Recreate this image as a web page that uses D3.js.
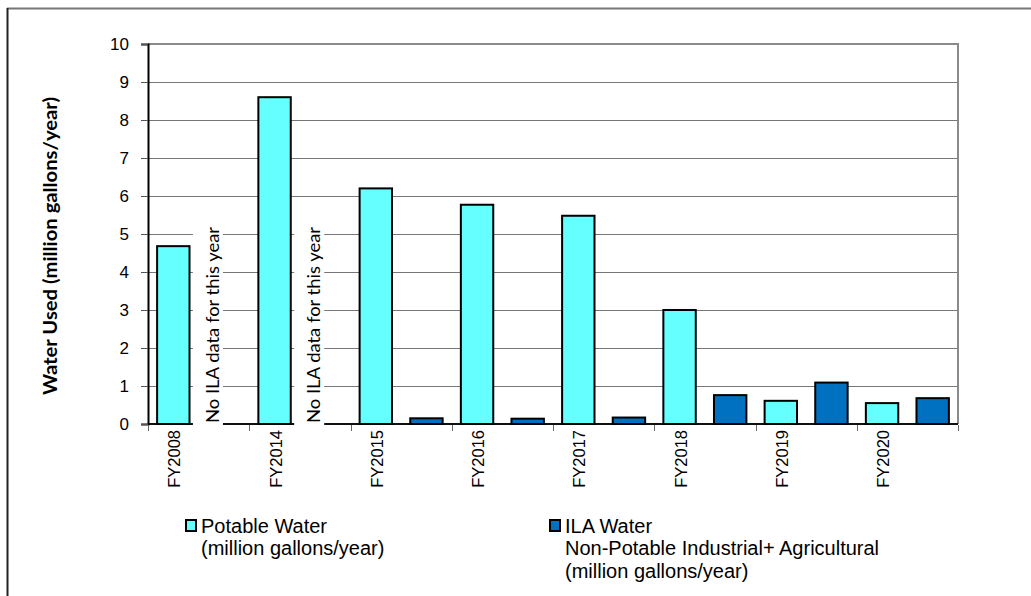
<!DOCTYPE html>
<html>
<head>
<meta charset="utf-8">
<script src="https://cdn.jsdelivr.net/npm/d3@7"></script>
<style>
  html, body { margin: 0; padding: 0; background: #fff; }
  svg { display: block; }
</style>
</head>
<body>
<svg id="chart" width="1031" height="596"></svg>
<script>
// Fiscal years shown on the category axis
const fiscalYears = ["FY2008", "FY2014", "FY2015", "FY2016", "FY2017", "FY2018", "FY2019", "FY2020"];
// Potable water, million gallons per year
const potableWater = [4.68, 8.6, 6.2, 5.77, 5.48, 3.0, 0.61, 0.55];
// ILA (non-potable industrial + agricultural) water, million gallons per year; null = not reported
const ilaWater = [null, null, 0.15, 0.14, 0.17, 0.76, 1.09, 0.68];
// Value-axis ticks
const yTickValues = [0, 1, 2, 3, 4, 5, 6, 7, 8, 9, 10];
const noDataNote = "No ILA data for this year";
const yAxisTitle = "Water  Used (million gallons/year)";
const legendItems = [
  { key: "potable", lines: ["Potable Water", "(million gallons/year)"] },
  { key: "ila", lines: ["ILA Water", "Non-Potable Industrial+ Agricultural", "(million gallons/year)"] }
];

const colors = { potable: "#66FFFF", ila: "#0070C0" };

const svg = d3.select("#chart");
const plot = { left: 148, right: 958, top: 44, bottom: 424 };

// Outer chart frame
svg.append("line").attr("x1", 7).attr("y1", 8.5).attr("x2", 1031).attr("y2", 8.5)
  .attr("stroke", "#777").attr("stroke-width", 2);
svg.append("line").attr("x1", 7.5).attr("y1", 8).attr("x2", 7.5).attr("y2", 596)
  .attr("stroke", "#222").attr("stroke-width", 2);

// Scales
const y = d3.scaleLinear().domain([0, 10]).range([plot.bottom, plot.top]);
const xGroup = d3.scaleBand().domain(fiscalYears).range([plot.left, plot.right]).padding(0);
const slots = fiscalYears.flatMap(fy => [fy + "|potable", fy + "|ila"]);
const xSlot = d3.scaleBand().domain(slots).range([plot.left, plot.right])
  .paddingInner(0.36).paddingOuter(0.18);

// Horizontal gridlines
svg.append("g").selectAll("line").data(yTickValues.filter(v => v > 0)).join("line")
  .attr("x1", plot.left).attr("x2", plot.right)
  .attr("y1", d => Math.round(y(d)) + 0.5).attr("y2", d => Math.round(y(d)) + 0.5)
  .attr("stroke", "#777").attr("stroke-width", 1);

// Plot-area frame (top and right edges)
svg.append("path")
  .attr("d", `M${plot.left},${plot.top} H${plot.right} V${plot.bottom}`)
  .attr("fill", "none").attr("stroke", "#8a8a8a").attr("stroke-width", 2);

// Category axis baseline
svg.append("line").attr("x1", plot.left).attr("x2", plot.right)
  .attr("y1", plot.bottom).attr("y2", plot.bottom)
  .attr("stroke", "#111").attr("stroke-width", 2);

// "No data" notes in the empty ILA slots, on a white backing that breaks the grid
const missing = fiscalYears.filter((fy, i) => ilaWater[i] == null);
const noteGroups = svg.append("g").selectAll("g").data(missing).join("g")
  .attr("transform", fy => `translate(${xSlot(fy + "|ila") + xSlot.bandwidth() / 2 - 5},${plot.bottom - 1})`);
noteGroups.append("rect")
  .attr("x", -26).attr("y", -199).attr("width", 30).attr("height", 203)
  .attr("fill", "#fff");
noteGroups.append("text")
  .attr("transform", "rotate(-90)")
  .attr("font-family", "Lato, 'Open Sans', sans-serif")
  .attr("font-size", 16.5).attr("fill", "#000")
  .attr("textLength", 196).attr("lengthAdjust", "spacingAndGlyphs")
  .text(noDataNote);

// Bars
const barRows = fiscalYears.flatMap((fy, i) => [
  { slot: fy + "|potable", series: "potable", value: potableWater[i] },
  { slot: fy + "|ila", series: "ila", value: ilaWater[i] }
]).filter(d => d.value != null);

svg.append("g").selectAll("rect").data(barRows).join("rect")
  .attr("x", d => xSlot(d.slot))
  .attr("width", xSlot.bandwidth())
  .attr("y", d => y(d.value))
  .attr("height", d => y(0) - y(d.value))
  .attr("fill", d => colors[d.series])
  .attr("stroke", "#000").attr("stroke-width", 2);

// Value axis
const yAxis = svg.append("g").attr("transform", `translate(${plot.left},0)`)
  .call(d3.axisLeft(y).tickValues(yTickValues).tickSize(7).tickPadding(12).tickFormat(d3.format("d")));
yAxis.select(".domain").attr("stroke", "#000").attr("stroke-width", 2);
yAxis.selectAll(".tick line").attr("stroke", "#555");
yAxis.selectAll(".tick text")
  .attr("font-family", "'Liberation Sans', Arial, sans-serif")
  .attr("font-size", 17).attr("fill", "#000");

// Category ticks at group boundaries, labels under the potable bars
const boundaries = fiscalYears.map(fy => xGroup(fy)).concat([plot.right]);
svg.append("g").selectAll("line").data(boundaries).join("line")
  .attr("x1", d => Math.round(d) + 0.5).attr("x2", d => Math.round(d) + 0.5)
  .attr("y1", plot.bottom + 1).attr("y2", plot.bottom + 7)
  .attr("stroke", "#666").attr("stroke-width", 1);

svg.append("g").selectAll("text").data(fiscalYears).join("text")
  .attr("transform", fy => `translate(${xSlot(fy + "|potable") + xSlot.bandwidth() / 2 + 7},${plot.bottom + 6}) rotate(-90)`)
  .attr("text-anchor", "end")
  .attr("font-family", "'Liberation Sans', Arial, sans-serif")
  .attr("font-size", 16.5).attr("fill", "#000")
  .text(fy => fy);

// Value-axis title
svg.append("text")
  .attr("transform", "translate(57,246) rotate(-90)")
  .attr("text-anchor", "middle")
  .attr("font-family", "Lato, 'Open Sans', sans-serif")
  .attr("font-weight", "bold")
  .attr("font-size", 18).attr("fill", "#000")
  .attr("textLength", 298).attr("lengthAdjust", "spacingAndGlyphs")
  .text(yAxisTitle);

// Legend
const legendX = { potable: 186, ila: 550 };
const legend = svg.append("g").selectAll("g").data(legendItems).join("g")
  .attr("transform", d => `translate(${legendX[d.key]},520)`);
legend.append("rect")
  .attr("width", 10).attr("height", 11)
  .attr("fill", d => colors[d.key]).attr("stroke", "#000").attr("stroke-width", 2);
legend.append("text")
  .attr("font-family", "'Liberation Sans', Arial, sans-serif")
  .attr("font-size", 20).attr("fill", "#000")
  .selectAll("tspan").data(d => d.lines).join("tspan")
  .attr("x", 15).attr("y", (d, i) => 12.7 + i * 22.4)
  .text(d => d);
</script>
</body>
</html>
